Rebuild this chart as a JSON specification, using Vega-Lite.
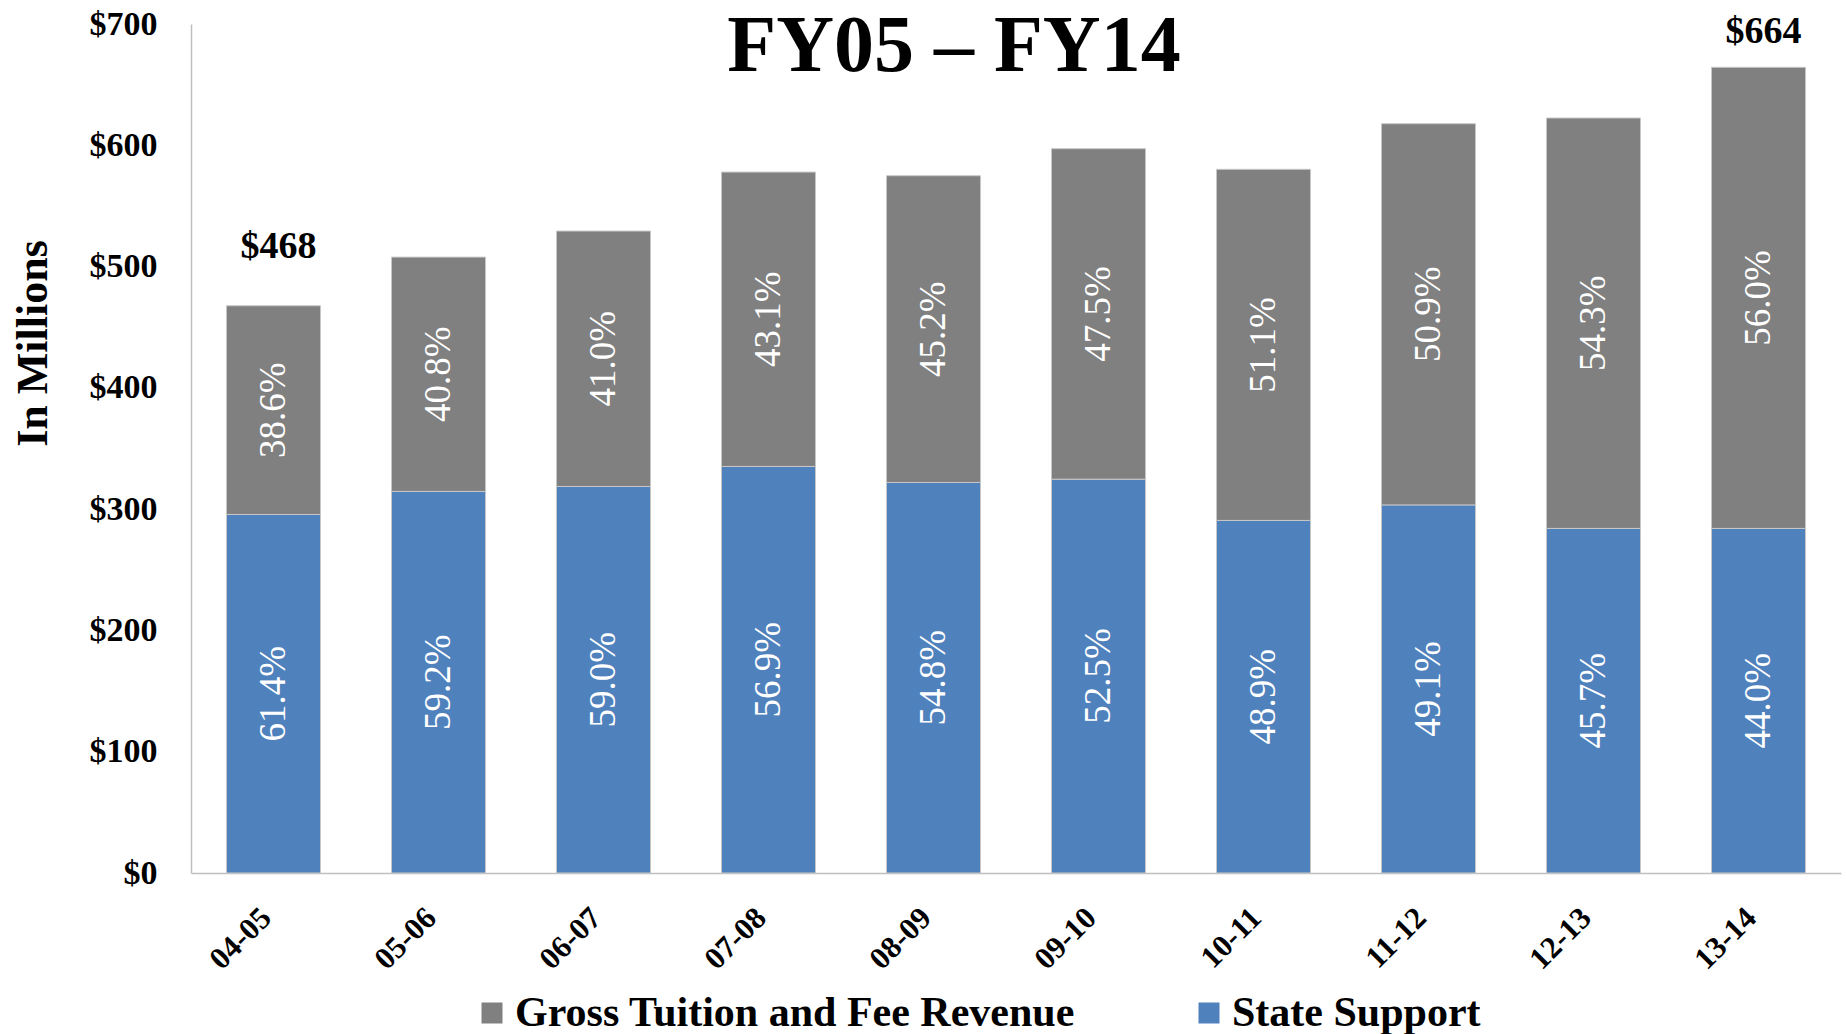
{
  "$schema": "https://vega.github.io/schema/vega-lite/v6.json",
  "width": 1650,
  "height": 849,
  "autosize": "none",
  "padding": {"left": 191, "top": 24, "right": 6, "bottom": 161},
  "background": "white",
  "config": {"font": "Liberation Serif", "view": {"stroke": null}},
  "title": {
    "text": "FY05 – FY14",
    "fontSize": 80,
    "fontWeight": "bold",
    "font": "Liberation Serif",
    "color": "black",
    "anchor": "middle",
    "frame": "group",
    "dx": -62,
    "baseline": "alphabetic",
    "offset": -144
  },
  "data": {
    "values": [
      {"year": "04-05", "series": "State Support", "value": 295.6, "pct": "61.4%"},
      {"year": "05-06", "series": "State Support", "value": 314.6, "pct": "59.2%"},
      {"year": "06-07", "series": "State Support", "value": 318.7, "pct": "59.0%"},
      {"year": "07-08", "series": "State Support", "value": 335.2, "pct": "56.9%"},
      {"year": "08-09", "series": "State Support", "value": 322.0, "pct": "54.8%"},
      {"year": "09-10", "series": "State Support", "value": 324.7, "pct": "52.5%"},
      {"year": "10-11", "series": "State Support", "value": 290.7, "pct": "48.9%"},
      {"year": "11-12", "series": "State Support", "value": 303.5, "pct": "49.1%"},
      {"year": "12-13", "series": "State Support", "value": 284.1, "pct": "45.7%"},
      {"year": "13-14", "series": "State Support", "value": 284.1, "pct": "44.0%"},
      {"year": "04-05", "series": "Gross Tuition and Fee Revenue", "value": 172.1, "pct": "38.6%"},
      {"year": "05-06", "series": "Gross Tuition and Fee Revenue", "value": 193.2, "pct": "40.8%"},
      {"year": "06-07", "series": "Gross Tuition and Fee Revenue", "value": 210.6, "pct": "41.0%"},
      {"year": "07-08", "series": "Gross Tuition and Fee Revenue", "value": 242.7, "pct": "43.1%"},
      {"year": "08-09", "series": "Gross Tuition and Fee Revenue", "value": 252.9, "pct": "45.2%"},
      {"year": "09-10", "series": "Gross Tuition and Fee Revenue", "value": 272.5, "pct": "47.5%"},
      {"year": "10-11", "series": "Gross Tuition and Fee Revenue", "value": 289.5, "pct": "51.1%"},
      {"year": "11-12", "series": "Gross Tuition and Fee Revenue", "value": 314.3, "pct": "50.9%"},
      {"year": "12-13", "series": "Gross Tuition and Fee Revenue", "value": 338.4, "pct": "54.3%"},
      {"year": "13-14", "series": "Gross Tuition and Fee Revenue", "value": 380.2, "pct": "56.0%"}
    ]
  },
  "encoding": {
    "x": {
      "field": "year",
      "type": "nominal",
      "sort": null,
      "scale": {
        "domain": ["04-05", "05-06", "06-07", "07-08", "08-09", "09-10", "10-11", "11-12", "12-13", "13-14"],
        "paddingInner": 0.43,
        "paddingOuter": 0.215
      },
      "axis": {
        "title": null,
        "labelAngle": -45,
        "labelAlign": "right",
        "labelBaseline": "middle",
        "labelFont": "Liberation Serif",
        "labelFontSize": 31,
        "labelFontWeight": "bold",
        "labelColor": "black",
        "ticks": false,
        "labelPadding": 40,
        "labelOffset": -7,
        "domainColor": "#bfbfbf",
        "domainWidth": 1.5
      }
    }
  },
  "layer": [
    {
      "mark": {"type": "bar", "stroke": "#c8c8c8", "strokeWidth": 1},
      "encoding": {
        "y": {
          "field": "value",
          "type": "quantitative",
          "stack": "zero",
          "scale": {"domain": [0, 700], "nice": false},
          "axis": {
            "values": [0, 100, 200, 300, 400, 500, 600, 700],
            "format": "$d",
            "grid": false,
            "ticks": false,
            "labelPadding": 34,
            "labelFont": "Liberation Serif",
            "labelFontSize": 34,
            "labelFontWeight": "bold",
            "labelColor": "black",
            "title": "In Millions",
            "titleFont": "Liberation Serif",
            "titleFontSize": 44,
            "titleFontWeight": "bold",
            "titleColor": "black",
            "titleX": -158,
            "titleY": 319,
            "titleAngle": -90,
            "titleAlign": "center",
            "titleBaseline": "middle",
            "domainColor": "#bfbfbf",
            "domainWidth": 1.5
          }
        },
        "color": {
          "field": "series",
          "type": "nominal",
          "scale": {
            "domain": ["Gross Tuition and Fee Revenue", "State Support"],
            "range": ["#808080", "#4f81bd"]
          },
          "legend": {
            "title": null,
            "orient": "none",
            "legendX": 280,
            "legendY": 968,
            "direction": "horizontal",
            "symbolType": "square",
            "symbolSize": 441,
            "symbolStrokeWidth": 0,
            "labelFont": "Liberation Serif",
            "labelFontSize": 42,
            "labelFontWeight": "bold",
            "labelColor": "black",
            "labelLimit": 0,
            "columnPadding": 112,
            "labelOffset": 2
          }
        },
        "order": {"field": "series", "sort": "descending"}
      }
    },
    {
      "mark": {
        "type": "text",
        "angle": 270,
        "color": "white",
        "font": "Liberation Serif",
        "fontSize": 37,
        "align": "center",
        "baseline": "middle"
      },
      "encoding": {
        "y": {"field": "value", "type": "quantitative", "stack": "zero", "bandPosition": 0.5},
        "detail": {"field": "series"},
        "order": {"field": "series", "sort": "descending"},
        "text": {"field": "pct"}
      }
    },
    {
      "data": {"values": [{"year": "04-05", "total": 468}]},
      "mark": {
        "type": "text",
        "font": "Liberation Serif",
        "fontSize": 38,
        "fontWeight": "bold",
        "color": "black",
        "baseline": "alphabetic",
        "align": "center",
        "dx": 5,
        "dy": -47
      },
      "encoding": {
        "y": {"field": "total", "type": "quantitative"},
        "text": {"field": "total", "format": "$d"}
      }
    },
    {
      "data": {"values": [{"year": "13-14", "total": 664}]},
      "mark": {
        "type": "text",
        "font": "Liberation Serif",
        "fontSize": 38,
        "fontWeight": "bold",
        "color": "black",
        "baseline": "alphabetic",
        "align": "center",
        "dx": 5,
        "dy": -25
      },
      "encoding": {
        "y": {"field": "total", "type": "quantitative"},
        "text": {"field": "total", "format": "$d"}
      }
    }
  ]
}
